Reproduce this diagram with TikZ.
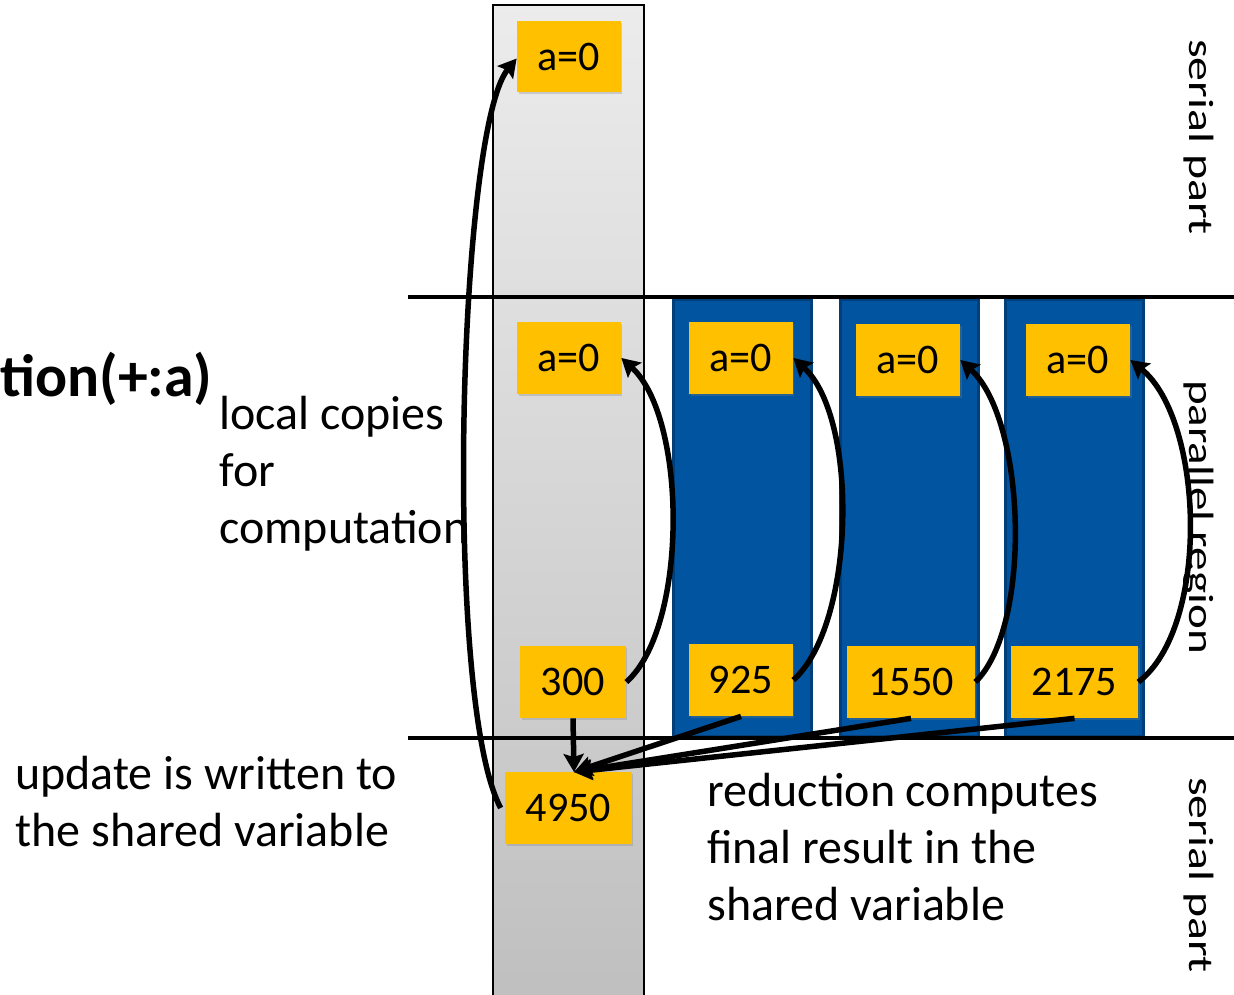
\documentclass[tikz,border=0pt]{standalone}
\usepackage{fontspec}
\setmainfont{Carlito}
\usetikzlibrary{arrows.meta,shadows}
\definecolor{boxyellow}{HTML}{FFC000}
\definecolor{colblue}{HTML}{0054A0}
\definecolor{colblueedge}{HTML}{003F7A}
\begin{document}
\begin{tikzpicture}[x=0.02cm,y=-0.02cm,
 ybox/.style={fill=boxyellow, draw=none, minimum height=1.44cm, inner sep=0pt,
   font=\fontsize{24}{28}\selectfont,
   drop shadow={shadow xshift=0.03cm, shadow yshift=-0.04cm, opacity=0.3}},
 lbl/.style={anchor=base west, inner sep=0pt, font=\fontsize{27.3}{32}\selectfont},
 side/.style={rotate=-90, inner sep=0pt, font=\fontsize{20}{24}\selectfont},
 arr/.style={line width=0.11cm, -{Stealth[length=0.36cm,width=0.4cm,inset=0.06cm]}},
 bar/.style={line width=0.09cm},
 bluecol/.style={fill=colblue, draw=colblueedge, line width=0.06cm}]
\useasboundingbox (0,0) rectangle (1234,994);
% shared (gray) column
\path[top color=gray!15, bottom color=gray!50, draw=black, line width=0.04cm] (493,5) rectangle (644,1000);
% thread columns
\path[bluecol] (673,299) rectangle (811,736);
\path[bluecol] (840,299) rectangle (978,736);
\path[bluecol] (1005,299) rectangle (1143,736);
% region separators
\draw[bar] (408,297) -- (1240,297);
\draw[bar] (408,738) -- (1240,738);
% boxes
\node[ybox, minimum width=2.08cm] (top) at (569,56.5) {a=0};
\node[ybox, minimum width=2.08cm] (g0) at (569,358) {a=0};
\node[ybox, minimum width=2.08cm] (b1) at (741,358) {a=0};
\node[ybox, minimum width=2.08cm] (b2) at (908,360) {a=0};
\node[ybox, minimum width=2.08cm] (b3) at (1078,360) {a=0};
\node[ybox, minimum width=2.12cm] (r0) at (573,682) {300};
\node[ybox, minimum width=2.08cm] (r1) at (741,680) {925};
\node[ybox, minimum width=2.56cm] (r2) at (911,682) {1550};
\node[ybox, minimum width=2.54cm] (r3) at (1074.5,682) {2175};
\node[ybox, minimum width=2.54cm] (fin) at (568.5,808) {4950};
% texts
\node[anchor=base west, inner sep=0pt, font=\bfseries\fontsize{34}{40}\selectfont] (title) at (0,396) {tion(+:a)};
\node[lbl] (lc1) at (219,429) {local copies};
\node[lbl] (lc2) at (219,486) {for};
\node[lbl] (lc3) at (219,543) {computation};
\node[lbl] (up1) at (15,789) {update is written to};
\node[lbl] (up2) at (15,846) {the shared variable};
\node[lbl] (rd1) at (707,806) {reduction computes};
\node[lbl] (rd2) at (707,863) {final result in the};
\node[lbl] (rd3) at (707,920) {shared variable};
\node[side] (s1) at (1199,137) {\scalebox{1.36}[1]{serial part}};
\node[side] (s2) at (1199,517) {\scalebox{1.34}[1]{parallel region}};
\node[side] (s3) at (1199,875) {\scalebox{1.36}[1]{serial part}};
% arrows
\draw[arr] ([xshift=-0.08cm]fin.west) .. controls (443,700) and (458,130) .. ([yshift=-0.04cm]top.west);
\draw[arr] (r0.east) .. controls +(62,-55) and +(66,60) .. (g0.east);
\draw[arr] (r1.east) .. controls +(62,-55) and +(66,60) .. (b1.east);
\draw[arr] (r2.east) .. controls +(57,-55) and +(66,60) .. (b2.east);
\draw[arr] (r3.east) .. controls +(72,-55) and +(74,60) .. (b3.east);
\coordinate (tip) at (574,772);
\draw[arr] (r0.south) -- (tip);
\draw[arr] (r1.south) -- (tip);
\draw[arr] (r2.south) -- (tip);
\draw[arr] (r3.south) -- (tip);
\end{tikzpicture}
\end{document}
